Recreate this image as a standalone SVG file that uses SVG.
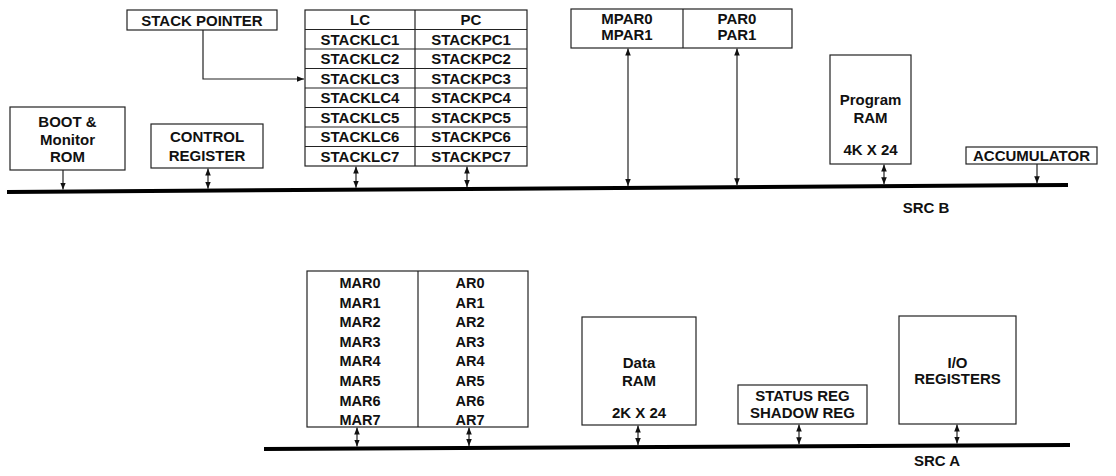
<svg xmlns="http://www.w3.org/2000/svg" width="1116" height="476" viewBox="0 0 1116 476">
<defs>
<style>
.box{fill:#fff;stroke:#222;stroke-width:1.2}
.ln{fill:none;stroke:#222;stroke-width:1.2}
.bus{fill:none;stroke:#000;stroke-width:4}
text{font-family:"Liberation Sans",Arial,sans-serif;font-size:15px;font-weight:bold;fill:#111;text-anchor:middle}
.sm{font-size:14.5px}
</style>
<marker id="ah" viewBox="0 0 8 8" refX="8" refY="4" markerWidth="7" markerHeight="7" markerUnits="userSpaceOnUse" orient="auto-start-reverse"><path d="M0,0.8 L8,4 L0,7.2 z" fill="#111"/></marker>
</defs>
<rect width="1116" height="476" fill="#fff"/>

<g id="buses">
<line class="bus" x1="7" y1="192" x2="1068" y2="185"/>
<line class="bus" x1="264" y1="449" x2="1070" y2="445"/>
<text x="926" y="213">SRC B</text>
<text x="937" y="466">SRC A</text>
</g>

<g id="stack-pointer">
<rect class="box" x="127" y="10" width="150" height="20"/>
<text x="202" y="25.5">STACK POINTER</text>
</g>

<g id="stack-table">
<rect class="box" x="305" y="10" width="222" height="156"/>
<line class="ln" x1="415" y1="10" x2="415" y2="166"/>
<line class="ln" x1="305" y1="29.5" x2="527" y2="29.5"/>
<line class="ln" x1="305" y1="49" x2="527" y2="49"/>
<line class="ln" x1="305" y1="68.5" x2="527" y2="68.5"/>
<line class="ln" x1="305" y1="88" x2="527" y2="88"/>
<line class="ln" x1="305" y1="107.5" x2="527" y2="107.5"/>
<line class="ln" x1="305" y1="127" x2="527" y2="127"/>
<line class="ln" x1="305" y1="146.5" x2="527" y2="146.5"/>
<text x="360" y="25">LC</text><text x="471" y="25">PC</text>
<text x="360" y="44.5">STACKLC1</text><text x="471" y="44.5">STACKPC1</text>
<text x="360" y="64">STACKLC2</text><text x="471" y="64">STACKPC2</text>
<text x="360" y="83.5">STACKLC3</text><text x="471" y="83.5">STACKPC3</text>
<text x="360" y="103">STACKLC4</text><text x="471" y="103">STACKPC4</text>
<text x="360" y="122.5">STACKLC5</text><text x="471" y="122.5">STACKPC5</text>
<text x="360" y="142">STACKLC6</text><text x="471" y="142">STACKPC6</text>
<text x="360" y="161.5">STACKLC7</text><text x="471" y="161.5">STACKPC7</text>
</g>

<g id="par">
<rect class="box" x="571" y="9" width="221" height="39"/>
<line class="ln" x1="683" y1="9" x2="683" y2="48"/>
<text x="627" y="24">MPAR0</text><text x="627" y="40">MPAR1</text>
<text x="737" y="24">PAR0</text><text x="737" y="40">PAR1</text>
</g>

<g id="program-ram">
<rect class="box" x="830" y="55" width="81" height="109"/>
<text x="870.5" y="105">Program</text>
<text x="870.5" y="123">RAM</text>
<text x="870.5" y="155">4K X 24</text>
</g>

<g id="accumulator">
<rect class="box" x="966" y="147" width="131" height="17"/>
<text x="1031.5" y="161">ACCUMULATOR</text>
</g>

<g id="boot-rom">
<rect class="box" x="10" y="107" width="115" height="63"/>
<text x="67.5" y="127">BOOT &amp;</text>
<text x="67.5" y="145">Monitor</text>
<text x="67.5" y="162">ROM</text>
</g>

<g id="control-register">
<rect class="box" x="151" y="124" width="112" height="44"/>
<text x="207" y="142">CONTROL</text>
<text x="207" y="161">REGISTER</text>
</g>

<g id="ar-table">
<rect class="box" x="307" y="271" width="221" height="156"/>
<line class="ln" x1="418" y1="271" x2="418" y2="427"/>
<text class="sm" x="360" y="288">MAR0</text><text class="sm" x="470" y="288">AR0</text>
<text class="sm" x="360" y="307.6">MAR1</text><text class="sm" x="470" y="307.6">AR1</text>
<text class="sm" x="360" y="327.2">MAR2</text><text class="sm" x="470" y="327.2">AR2</text>
<text class="sm" x="360" y="346.8">MAR3</text><text class="sm" x="470" y="346.8">AR3</text>
<text class="sm" x="360" y="366.4">MAR4</text><text class="sm" x="470" y="366.4">AR4</text>
<text class="sm" x="360" y="386">MAR5</text><text class="sm" x="470" y="386">AR5</text>
<text class="sm" x="360" y="405.6">MAR6</text><text class="sm" x="470" y="405.6">AR6</text>
<text class="sm" x="360" y="425.2">MAR7</text><text class="sm" x="470" y="425.2">AR7</text>
</g>

<g id="data-ram">
<rect class="box" x="582" y="317" width="114" height="108"/>
<text x="639" y="368">Data</text>
<text x="639" y="386">RAM</text>
<text x="639" y="418">2K X 24</text>
</g>

<g id="status-reg">
<rect class="box" x="738" y="385" width="129" height="39"/>
<text x="802.5" y="401">STATUS REG</text>
<text x="802.5" y="418">SHADOW REG</text>
</g>

<g id="io-registers">
<rect class="box" x="899" y="316" width="117" height="108"/>
<text x="957.5" y="368">I/O</text>
<text x="957.5" y="384">REGISTERS</text>
</g>

<g id="connectors">
<path class="ln" d="M203,30 V79 H304" marker-end="url(#ah)"/>
<line class="ln" x1="63" y1="170" x2="63" y2="189.6" marker-end="url(#ah)"/>
<line class="ln" x1="208" y1="168.5" x2="208" y2="188.7" marker-start="url(#ah)" marker-end="url(#ah)"/>
<line class="ln" x1="356" y1="166.5" x2="356" y2="187.7" marker-start="url(#ah)" marker-end="url(#ah)"/>
<line class="ln" x1="467" y1="166.5" x2="467" y2="187" marker-start="url(#ah)" marker-end="url(#ah)"/>
<line class="ln" x1="628" y1="48.5" x2="628" y2="185.9" marker-start="url(#ah)" marker-end="url(#ah)"/>
<line class="ln" x1="737" y1="48.5" x2="737" y2="185.2" marker-start="url(#ah)" marker-end="url(#ah)"/>
<line class="ln" x1="884" y1="164.5" x2="884" y2="184.2" marker-start="url(#ah)" marker-end="url(#ah)"/>
<line class="ln" x1="1037" y1="164" x2="1037" y2="183.2" marker-end="url(#ah)"/>
<line class="ln" x1="357" y1="427.5" x2="357" y2="446.5" marker-start="url(#ah)" marker-end="url(#ah)"/>
<line class="ln" x1="469" y1="427.5" x2="469" y2="446" marker-start="url(#ah)" marker-end="url(#ah)"/>
<line class="ln" x1="638" y1="425.5" x2="638" y2="445.1" marker-start="url(#ah)" marker-end="url(#ah)"/>
<line class="ln" x1="799" y1="424.5" x2="799" y2="444.3" marker-start="url(#ah)" marker-end="url(#ah)"/>
<line class="ln" x1="957" y1="424.5" x2="957" y2="443.6" marker-start="url(#ah)" marker-end="url(#ah)"/>
</g>
</svg>
